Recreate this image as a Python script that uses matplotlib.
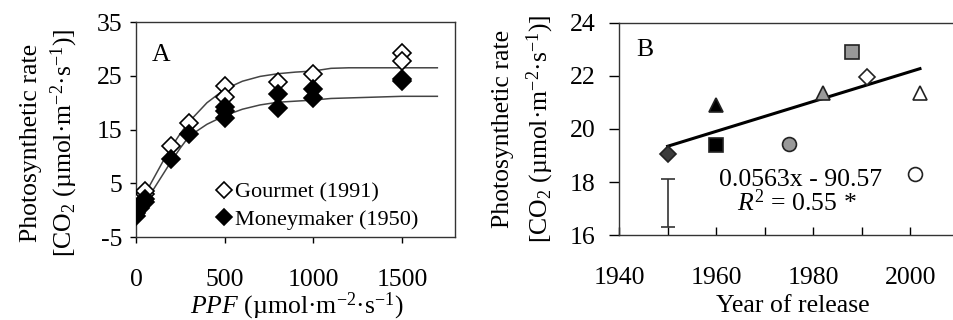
import matplotlib
matplotlib.use('Agg')
import matplotlib.pyplot as plt

plt.rcParams['font.family'] = ['Liberation Serif', 'DejaVu Serif']
plt.rcParams['mathtext.fontset'] = 'custom'
plt.rcParams['mathtext.rm'] = 'Liberation Serif'
plt.rcParams['mathtext.it'] = 'Liberation Serif:italic'
plt.rcParams['font.size'] = 18.5
plt.rcParams['axes.unicode_minus'] = False

# panel A - light response
ppf_g = [0, 0, 25, 25, 50, 50, 200, 300, 500, 500, 800, 1000, 1500, 1500]
rate_g = [0.5, 1.2, 2.0, 2.5, 3.0, 3.6, 12.0, 16.3, 23.2, 21.0, 23.8, 25.4, 29.2, 27.8]
ppf_m = [0, 0, 25, 25, 50, 50, 200, 300, 500, 500, 500, 800, 800, 1000, 1000, 1500, 1500]
rate_m = [-1.0, -0.5, 0.5, 1.0, 1.5, 2.2, 9.6, 14.2, 19.3, 18.4, 17.2, 21.6, 19.0, 22.6, 20.8, 24.4, 24.0]
fit_ppf = [0, 50, 100, 150, 200, 250, 300, 400, 500, 600, 700, 800, 900, 1000, 1100, 1200, 1500, 1700]
fit_g = [0.5, 3.0, 6.0, 9.0, 11.8, 14.3, 16.5, 20.0, 22.5, 24.0, 24.9, 25.4, 25.7, 25.9, 26.4, 26.5, 26.5, 26.5]
fit_m = [-0.8, 1.5, 4.0, 6.6, 9.2, 11.6, 13.8, 16.0, 17.6, 18.8, 19.6, 20.1, 20.3, 20.5, 20.8, 20.9, 21.2, 21.2]

# panel B - cultivars by year of release
years = [1950, 1960, 1960, 1975, 1982, 1988, 1991, 2002, 2001]
rates = [19.05, 20.9, 19.4, 19.45, 21.35, 22.9, 21.95, 21.35, 18.3]
marks = ['D', '^', 's', 'o', '^', 's', 'D', '^', 'o']
fills = ['#3c3c3c', 'k', 'k', '#999999', '#999999', '#999999', 'w', 'w', 'w']
trend_x = [1950, 2002]
trend_y = [19.35, 22.27]
err_x = [1950]
err_y = [17.2]
err_half = [0.9]

ylab = 'Photosynthetic rate\n[CO$_2$ (µmol·m$^{-2}$·s$^{-1}$)]'

fig = plt.figure(figsize=(9.54, 3.2), dpi=100)
axA = fig.add_axes([0.1426, 0.2584, 0.3344, 0.6727])
axB = fig.add_axes([0.649, 0.2647, 0.356, 0.6644])

# ---- A
axA.plot(fit_ppf, fit_g, color='#444444', lw=1.1, zorder=2)
axA.plot(fit_ppf, fit_m, color='#444444', lw=1.1, zorder=2)
axA.plot(ppf_g, rate_g, 'D', ms=9, mfc='w', mec='k', mew=1.2, ls='none',
         label='Gourmet (1991)', zorder=3)
axA.plot(ppf_m, rate_m, 'D', ms=9, mfc='k', mec='k', mew=1.2, ls='none',
         label='Moneymaker (1950)', zorder=3)
axA.set_xlim(0, 1800)
axA.set_ylim(-5, 35)
axA.set_xticks([0, 500, 1000, 1500])
axA.set_yticks([-5, 5, 15, 25, 35])
axA.tick_params(direction='out', length=4, width=1)
axA.tick_params(axis='x', pad=18.5)
axA.tick_params(axis='y', pad=6)
axA.set_ylabel(ylab, linespacing=1.3)
axA.yaxis.label.set_va('center')
axA.yaxis.set_label_coords(-0.27, 0.44)
axA.set_xlabel('$PPF$ (µmol·m$^{-2}$·s$^{-1}$)')
axA.xaxis.set_label_coords(0.505, -0.32)
axA.xaxis.label.set_va('center')
axA.text(0.08, 0.847, 'A', transform=axA.transAxes, ha='center', va='center')
axA.legend(loc='upper left', bbox_to_anchor=(0.25, 0.257), frameon=False,
           handlelength=0.7, handletextpad=0.15, borderpad=0, borderaxespad=0,
           labelspacing=0.3, markerscale=0.85, fontsize=16)

# ---- B
axB.plot(trend_x, trend_y, color='k', lw=2.2, zorder=2)
axB.errorbar(err_x, err_y, yerr=err_half, fmt='none', ecolor='#333333',
             elinewidth=1.2, capsize=5, capthick=1.2)
for x, y, m, c in zip(years, rates, marks, fills):
    ms = 8 if m == 'D' else 10
    axB.plot([x], [y], marker=m, ms=ms, mfc=c, mec='#222222', mew=1.2, ls='none', zorder=3)
axB.set_xlim(1940, 2010)
axB.set_ylim(16, 24)
axB.set_xticks([1940, 1960, 1980, 2000])
axB.set_xticks([1950, 1970, 1990], minor=True)
axB.set_yticks([16, 18, 20, 22, 24])
axB.tick_params(axis='x', which='both', direction='in', length=6, width=1, pad=22.5)
axB.tick_params(axis='y', direction='out', length=7, width=1, pad=10)
axB.set_ylabel(ylab, linespacing=1.45)
axB.yaxis.label.set_va('center')
axB.yaxis.set_label_coords(-0.28, 0.502)
axB.set_xlabel('Year of release')
axB.xaxis.set_label_coords(0.5125, -0.333)
axB.xaxis.label.set_va('center')
axB.text(0.077, 0.872, 'B', transform=axB.transAxes, ha='center', va='center')
axB.text(0.533, 0.26, '0.0563x - 90.57', transform=axB.transAxes, ha='center', va='center')
axB.text(0.524, 0.152, '$R^2$ = 0.55 *', transform=axB.transAxes, ha='center', va='center')

for ax in (axA, axB):
    for s in ax.spines.values():
        s.set_linewidth(1.0)
        s.set_color('#333333')

fig.savefig('out.png', dpi=100)
